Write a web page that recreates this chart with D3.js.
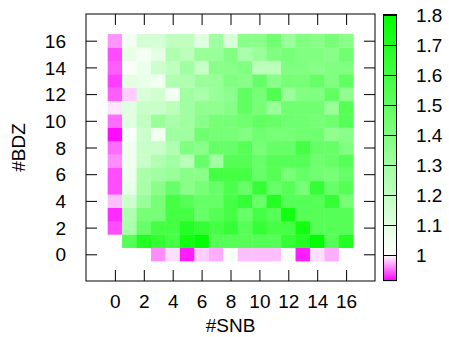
<!DOCTYPE html>
<html>
<head>
<meta charset="utf-8">
<script src="https://cdn.jsdelivr.net/npm/d3@7"></script>
<style>
  html, body { margin: 0; padding: 0; background: #fff; }
  svg { display: block; }
  text { font-family: "Liberation Sans", Arial, sans-serif; fill: #000; }
</style>
</head>
<body>
<svg id="chart" width="449" height="337"></svg>
<script>
// ---- data ----
const snb = d3.range(0, 17);          // x categories (#SNB)
const bdz = d3.range(0, 17);          // y categories (#BDZ)
const xTicks = [0, 2, 4, 6, 8, 10, 12, 14, 16];
const yTicks = [0, 2, 4, 6, 8, 10, 12, 14, 16];
const cbTicks = [1, 1.1, 1.2, 1.3, 1.4, 1.5, 1.6, 1.7, 1.8];
const cbRange = [0.913, 1.803];

// values[j][k]: row j = #BDZ (0..16), column k = #SNB (0..16); null = no data
const row0  = [null, null, 1.01, 0.961, 0.989, 0.923, 0.983, 0.972, 1.022, 0.978, 0.978, 0.978, 1.022, 0.923, 0.989, 0.972, 1.01];
const row1  = [null, 1.533, 1.693, 1.64, 1.587, 1.747, 1.8, 1.533, 1.533, 1.533, 1.533, 1.533, 1.64, 1.693, 1.8, 1.533, 1.693];
const row2  = [0.939, 1.267, 1.48, 1.587, 1.587, 1.693, 1.64, 1.587, 1.64, 1.533, 1.64, 1.587, 1.587, 1.747, 1.533, 1.533, 1.533];
const row3  = [0.928, 1.248, 1.427, 1.427, 1.587, 1.587, 1.48, 1.533, 1.587, 1.48, 1.587, 1.533, 1.747, 1.533, 1.533, 1.533, 1.533];
const row4  = [0.978, 1.16, 1.32, 1.427, 1.587, 1.533, 1.48, 1.48, 1.587, 1.64, 1.48, 1.693, 1.533, 1.533, 1.533, 1.64, 1.427];
const row5  = [0.939, 1.072, 1.273, 1.373, 1.48, 1.373, 1.427, 1.48, 1.56, 1.48, 1.64, 1.48, 1.533, 1.427, 1.64, 1.48, 1.533];
const row6  = [0.939, 1.053, 1.267, 1.298, 1.32, 1.373, 1.373, 1.587, 1.587, 1.587, 1.48, 1.533, 1.427, 1.48, 1.449, 1.427, 1.48];
const row7  = [0.961, 1.047, 1.173, 1.248, 1.298, 1.223, 1.48, 1.298, 1.533, 1.533, 1.48, 1.533, 1.533, 1.533, 1.449, 1.48, 1.533];
const row8  = [0.950, 1.047, 1.173, 1.173, 1.248, 1.398, 1.373, 1.48, 1.48, 1.533, 1.427, 1.48, 1.48, 1.587, 1.48, 1.48, 1.398];
const row9  = [0.917, 1.022, 1.16, 1.047, 1.298, 1.298, 1.449, 1.427, 1.427, 1.398, 1.449, 1.427, 1.427, 1.449, 1.449, 1.348, 1.373];
const row10 = [0.950, 1.097, 1.198, 1.32, 1.267, 1.298, 1.373, 1.427, 1.427, 1.449, 1.499, 1.48, 1.449, 1.449, 1.427, 1.449, 1.533];
const row11 = [0.991, 1.097, 1.173, 1.173, 1.213, 1.298, 1.348, 1.348, 1.385, 1.499, 1.427, 1.32, 1.449, 1.449, 1.449, 1.32, 1.533];
const row12 = [0.945, 0.983, 1.122, 1.147, 1.047, 1.298, 1.267, 1.32, 1.36, 1.499, 1.427, 1.549, 1.32, 1.398, 1.398, 1.499, 1.348];
const row13 = [0.934, 1.085, 1.072, 1.047, 1.248, 1.248, 1.32, 1.32, 1.398, 1.373, 1.48, 1.373, 1.427, 1.427, 1.48, 1.398, 1.499];
const row14 = [0.945, 1.022, 1.060, 1.16, 1.198, 1.298, 1.173, 1.373, 1.373, 1.398, 1.213, 1.213, 1.398, 1.398, 1.373, 1.398, 1.398];
const row15 = [0.939, 1.072, 1.035, 1.085, 1.248, 1.213, 1.32, 1.32, 1.398, 1.267, 1.32, 1.398, 1.427, 1.398, 1.398, 1.373, 1.449];
const row16 = [0.963, 1.035, 1.135, 1.135, 1.198, 1.198, 1.097, 1.298, 1.122, 1.373, 1.373, 1.449, 1.32, 1.398, 1.373, 1.427, 1.373];
const values = [row0, row1, row2, row3, row4, row5, row6, row7, row8, row9, row10, row11, row12, row13, row14, row15, row16];

// ---- layout ----
const svg = d3.select("#chart");
const plot = { left: 86, right: 375, top: 14, bottom: 281 };
const x = d3.scaleLinear().domain([-2, 18]).range([plot.left, plot.right]);
const y = d3.scaleLinear().domain([-2, 18]).range([plot.bottom, plot.top]);
const color = d3.scaleLinear()
  .domain([cbRange[0], 1, cbRange[1]])
  .range(["#ff00ff", "#ffffff", "#00ff00"])
  .clamp(true);

const cells = [];
bdz.forEach((j) => snb.forEach((k) => {
  const v = values[j][k];
  if (v !== null && v !== undefined) cells.push({ k, j, v });
}));

svg.append("g").selectAll("rect").data(cells).join("rect")
  .attr("x", d => x(d.k - 0.5))
  .attr("y", d => y(d.j + 0.5))
  .attr("width", d => x(d.k + 0.5) - x(d.k - 0.5) + 0.4)
  .attr("height", d => y(d.j - 0.5) - y(d.j + 0.5) + 0.4)
  .attr("fill", d => color(d.v));

// frame
svg.append("rect")
  .attr("x", plot.left).attr("y", plot.top)
  .attr("width", plot.right - plot.left).attr("height", plot.bottom - plot.top)
  .attr("fill", "none").attr("stroke", "#000").attr("stroke-width", 1);

const tickLen = 11;
// x axis (bottom) + mirrored ticks
const xAxis = d3.axisBottom(x).tickValues(xTicks).tickSizeInner(-tickLen).tickSizeOuter(0).tickPadding(16);
const gx = svg.append("g").attr("transform", `translate(0,${plot.bottom})`).call(xAxis);
const xAxisTop = d3.axisTop(x).tickValues(xTicks).tickSizeInner(-tickLen).tickSizeOuter(0).tickFormat("");
const gxt = svg.append("g").attr("transform", `translate(0,${plot.top})`).call(xAxisTop);
// y axis (left) + mirrored ticks
const yAxis = d3.axisLeft(y).tickValues(yTicks).tickSizeInner(-tickLen).tickSizeOuter(0).tickPadding(20);
const gy = svg.append("g").attr("transform", `translate(${plot.left},0)`).call(yAxis);
const yAxisR = d3.axisRight(y).tickValues(yTicks).tickSizeInner(-tickLen).tickSizeOuter(0).tickFormat("");
const gyr = svg.append("g").attr("transform", `translate(${plot.right},0)`).call(yAxisR);

[gx, gxt, gy, gyr].forEach(g => {
  g.select(".domain").remove();
  g.selectAll(".tick line").attr("stroke", "#000");
  g.selectAll("text").style("font-family", '"Liberation Sans", Arial, sans-serif')
    .style("font-size", "19px").attr("fill", "#000");
});
gx.selectAll(".tick text").attr("dy", "0.71em").attr("y", 14);
gy.selectAll(".tick text").attr("x", -20).attr("dy", "0.35em");

// axis titles
svg.append("text")
  .attr("x", (plot.left + plot.right) / 2).attr("y", 332)
  .attr("text-anchor", "middle").style("font-size", "19px").text("#SNB");
svg.append("text")
  .attr("transform", `translate(25,${(plot.top + plot.bottom) / 2}) rotate(-90)`)
  .attr("text-anchor", "middle").style("font-size", "19px").text("#BDZ");

// ---- colorbar ----
const cb = { left: 383, right: 397, top: 14, bottom: 281 };
const cbY = d3.scaleLinear().domain(cbRange).range([cb.bottom, cb.top]);
const strips = d3.range(cb.top, cb.bottom, 1);
svg.append("g").selectAll("rect").data(strips).join("rect")
  .attr("x", cb.left).attr("y", d => d)
  .attr("width", cb.right - cb.left).attr("height", 1.2)
  .attr("fill", d => color(cbY.invert(d + 0.5)));
svg.append("g").selectAll("line").data(cbTicks).join("line")
  .attr("x1", cb.left).attr("x2", cb.right)
  .attr("y1", d => Math.round(cbY(d)) + 0.5).attr("y2", d => Math.round(cbY(d)) + 0.5)
  .attr("stroke", "#000").attr("stroke-width", 1);
svg.append("rect")
  .attr("x", cb.left + 0.5).attr("y", cb.top + 0.5)
  .attr("width", cb.right - cb.left - 1).attr("height", cb.bottom - cb.top - 1)
  .attr("fill", "none").attr("stroke", "#000").attr("stroke-width", 1);
svg.append("g").selectAll("text").data(cbTicks).join("text")
  .attr("x", 416).attr("y", d => cbY(d)).attr("dy", "0.35em")
  .style("font-size", "19px")
  .text(d => d3.format("")(d));
</script>
</body>
</html>
